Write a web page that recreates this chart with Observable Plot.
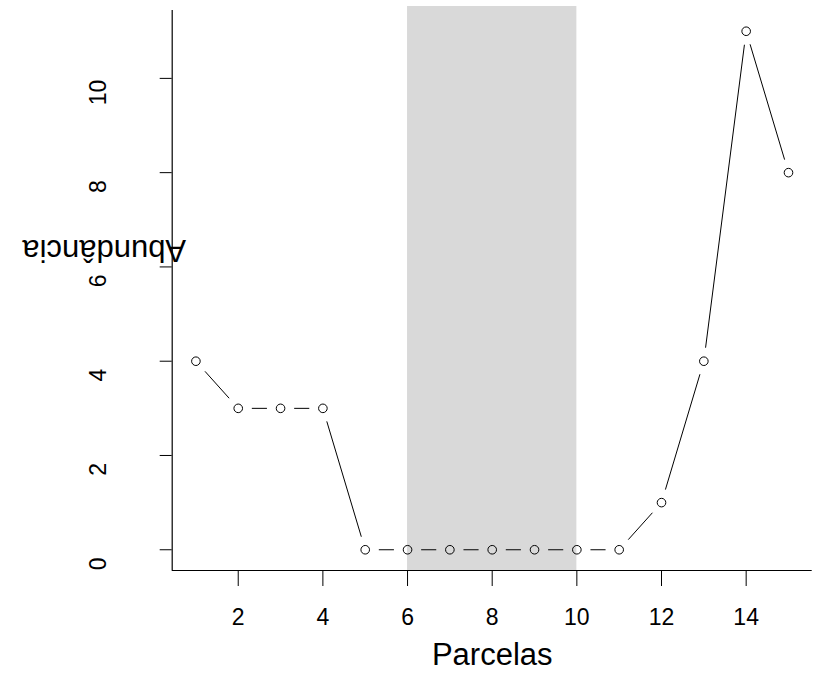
<!DOCTYPE html>
<html>
<head>
<meta charset="utf-8">
<script src="https://cdn.jsdelivr.net/npm/d3@7"></script>
<script src="https://cdn.jsdelivr.net/npm/@observablehq/plot@0.6"></script>
<style>
  html, body { margin: 0; padding: 0; background: #fff; }
</style>
</head>
<body>
<div id="chart"></div>
<script>
// Data
const parcelas = [1, 2, 3, 4, 5, 6, 7, 8, 9, 10, 11, 12, 13, 14, 15];
const abundancia = [4, 3, 3, 3, 0, 0, 0, 0, 0, 0, 0, 1, 4, 11, 8];
const xTicks = [2, 4, 6, 8, 10, 12, 14];
const yTicks = [0, 2, 4, 6, 8, 10];
const shadeFrom = [6];
const shadeTo = [10];
const xLabel = "Parcelas";
const yLabel = "Abundância";

// Scale settings (R-style 4% extension)
const xDomain = [0.44, 15.56];
const yDomain = [-0.44, 11.44];

const points = parcelas.map((p, i) => ({x: p, y: abundancia[i]}));
const segments = points.slice(1).map((d, i) => ({x1: points[i].x, y1: points[i].y, x2: d.x, y2: d.y}));
const shade = shadeFrom.map((a, i) => ({x1: a, x2: shadeTo[i]}));

const W = 814, H = 687;
const chart = Plot.plot({
  width: W,
  height: H,
  marginLeft: 171.7,
  marginRight: 2.3,
  marginTop: 6,
  marginBottom: 117,
  style: {fontFamily: "'Liberation Sans', Arial, Helvetica, sans-serif", background: "#fff", color: "#000"},
  x: {domain: xDomain},
  y: {domain: yDomain, range: [570, 10]},
  marks: [
    Plot.rect(shade, {x1: "x1", x2: "x2", fill: "#d9d9d9"}),
    Plot.ruleX([xDomain[0]], {y1: yDomain[0], y2: yDomain[1], stroke: "#000", strokeWidth: 1.2}),
    Plot.ruleY([yDomain[0]], {x1: xDomain[0], x2: xDomain[1], stroke: "#000", strokeWidth: 1.2}),
    Plot.axisX({ticks: xTicks, tickSize: 16, tickPadding: 22, fontSize: 23, label: null, stroke: "#000"}),
    Plot.axisY({ticks: yTicks, tickSize: 12, tickFormat: () => "", label: null, stroke: "#000"}),
    Plot.text(yTicks, {y: d => d, text: d => String(d), frameAnchor: "left", textAnchor: "middle", lineAnchor: "middle", rotate: -90, dx: -74, dy: 14, fontSize: 23, fill: "#000"}),
    Plot.text([xLabel], {text: d => d, frameAnchor: "bottom", textAnchor: "middle", lineAnchor: "middle", dy: 85, fontSize: 31, fill: "#000"}),
    Plot.text([yLabel], {text: d => d, frameAnchor: "left", textAnchor: "middle", lineAnchor: "middle", rotate: 180, dx: -68, dy: -39, fontSize: 31, fill: "#000"}),
    Plot.arrow(segments, {x1: "x1", y1: "y1", x2: "x2", y2: "y2", inset: 14, headLength: 0, stroke: "#000", strokeWidth: 1}),
    Plot.dot(points, {x: "x", y: "y", r: 4.3, stroke: "#000", fill: "none", strokeWidth: 1})
  ]
});
document.getElementById("chart").appendChild(chart);
</script>
</body>
</html>
